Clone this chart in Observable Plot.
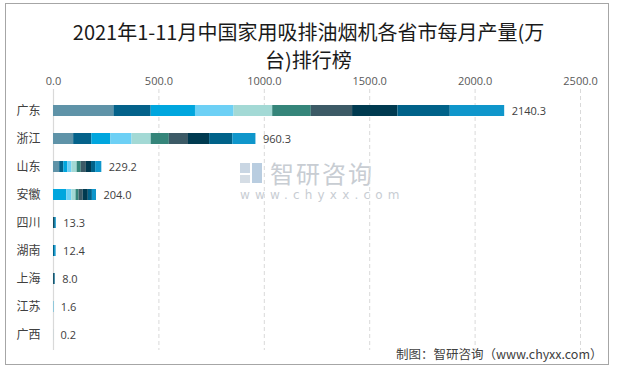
<!DOCTYPE html>
<html>
<head>
<meta charset="utf-8">
<script src="https://cdn.jsdelivr.net/npm/d3@7"></script>
<script src="https://cdn.jsdelivr.net/npm/@observablehq/plot@0.6"></script>
<style>
  html, body { margin: 0; padding: 0; background: #fff; }
  #wrap { position: relative; width: 617px; height: 368px; overflow: hidden; font-family: "Noto Sans CJK SC", "Noto Sans", sans-serif; }
  #wrap svg { position: absolute; left: 0; top: 0; }
  .ov { position: absolute; white-space: nowrap; }
</style>
</head>
<body>
<div id="wrap"></div>
<script>
// ---- data ----
const provinces = ["广东", "浙江", "山东", "安徽", "四川", "湖南", "上海", "江苏", "广西"];
const months = ["1-2月", "3月", "4月", "5月", "6月", "7月", "8月", "9月", "10月", "11月"];
const monthColors = ["#5f93a8", "#04628a", "#00a6de", "#6dd0f5", "#a3d9d5", "#35857a", "#3c5a66", "#003a50", "#006289", "#0f96cb"];
const guangdong = [286.6, 176.7, 210.2, 183.0, 183.4, 183.0, 195.9, 215.0, 248.4, 258.1];
const zhejiang  = [95.6, 86.0, 90.8, 100.3, 90.8, 86.0, 90.8, 100.3, 109.9, 109.8];
const shandong  = [29.2, 19.5, 19.5, 19.5, 24.4, 19.5, 24.4, 24.4, 19.5, 29.3];
const anhui     = [0, 0, 63.1, 24.3, 19.4, 14.6, 19.4, 24.3, 19.4, 19.5];
const sichuan   = [0, 0, 0, 0, 0, 0, 0, 4.3, 4.5, 4.5];
const hunan     = [0, 0, 0, 0, 0, 0, 0, 0, 5.0, 7.4];
const shanghai  = [0, 0, 0, 0, 0, 0, 0, 4.0, 4.0, 0];
const jiangsu   = [0, 0, 1.6, 0, 0, 0, 0, 0, 0, 0];
const guangxi   = [0, 0, 0, 0, 0, 0, 0, 0, 0, 0.2];
const xTicks = [0, 500, 1000, 1500, 2000, 2500];
const titleLines = ["2021年1-11月中国家用吸排油烟机各省市每月产量(万", "台)排行榜"];
const footer = "制图：智研咨询（www.chyxx.com）";

// ---- build tables ----
const series = [guangdong, zhejiang, shandong, anhui, sichuan, hunan, shanghai, jiangsu, guangxi];
const rows = [];
provinces.forEach((p, i) => months.forEach((m, j) => rows.push({province: p, month: m, value: series[i][j]})));
const totals = provinces.map((p, i) => ({province: p, total: d3.sum(series[i])}));

const chart = Plot.plot({
  width: 617,
  height: 368,
  marginTop: 89,
  marginBottom: 18,
  marginLeft: 53,
  marginRight: 37,
  style: {background: "transparent", fontFamily: "'Noto Sans CJK SC', sans-serif"},
  x: {domain: [0, 2500], range: [53, 580]},
  y: {domain: provinces, range: [97, 349], paddingInner: 0.59, paddingOuter: 0.295},
  color: {domain: months, range: monthColors},
  marks: [
    Plot.ruleX(xTicks.slice(1), {stroke: "#d9d9d9", strokeDasharray: "4,3"}),
    Plot.ruleX([0], {stroke: "#d9d9d9", strokeWidth: 1.2}),
    Plot.barX(rows, {x: "value", y: "province", fill: "month", order: months}),
    Plot.text(totals, {x: "total", y: "province", text: d => d.total.toFixed(1), textAnchor: "start", dx: 7, fontSize: 11, fill: "#404040", fontFamily: "'Open Sans', sans-serif"}),
    Plot.axisX({anchor: "top", ticks: xTicks, tickFormat: d => d.toFixed(1), tickSize: 0, tickPadding: 5, fontSize: 11, fill: "#595959", label: null, fontFamily: "'Open Sans', sans-serif"}),
    Plot.axisY({anchor: "left", tickSize: 0, tickPadding: 13, fontSize: 12, fill: "#404040", label: null})
  ]
});

const wrap = document.getElementById("wrap");

// watermark (behind chart)
const wm = document.createElement("div");
wm.className = "ov";
wm.style.cssText = "left:240px;top:160px;color:#c4cbd2;";
wm.innerHTML = '<div style="position:absolute;left:0;top:3px;width:10px;height:10px;background:#c9d6e3"></div>' +
  '<div style="position:absolute;left:12px;top:3px;width:10px;height:20px;background:#b9cde0"></div>' +
  '<div style="position:absolute;left:0;top:15px;width:10px;height:8px;background:#d5dde5"></div>' +
  '<div style="position:absolute;left:30px;top:-5px;font-size:24px;letter-spacing:2px;color:#c8cdd3">智研咨询</div>' +
  '<div style="position:absolute;left:0;top:28px;font-size:12px;letter-spacing:5.2px;color:#c8cdd3;font-family:\'DejaVu Sans\',sans-serif">www.chyxx.com</div>';
wrap.appendChild(wm);

wrap.appendChild(chart);

// frame border
const frame = document.createElement("div");
frame.className = "ov";
frame.style.cssText = "left:5px;top:3px;width:604px;height:362px;border:1px solid #a6a6a6;box-sizing:border-box;";
wrap.appendChild(frame);

// title
titleLines.forEach((t, i) => {
  const d = document.createElement("div");
  d.className = "ov";
  d.textContent = t;
  d.style.cssText = `left:0;width:617px;text-align:center;top:${18 + i * 28}px;font-size:20px;line-height:28px;color:#1a1a1a;font-weight:400;`;
  wrap.appendChild(d);
});

// footer
const f = document.createElement("div");
f.className = "ov";
f.textContent = footer;
f.style.cssText = "left:396px;top:345px;font-size:12.5px;line-height:18px;color:#404040;";
wrap.appendChild(f);
</script>
</body>
</html>
